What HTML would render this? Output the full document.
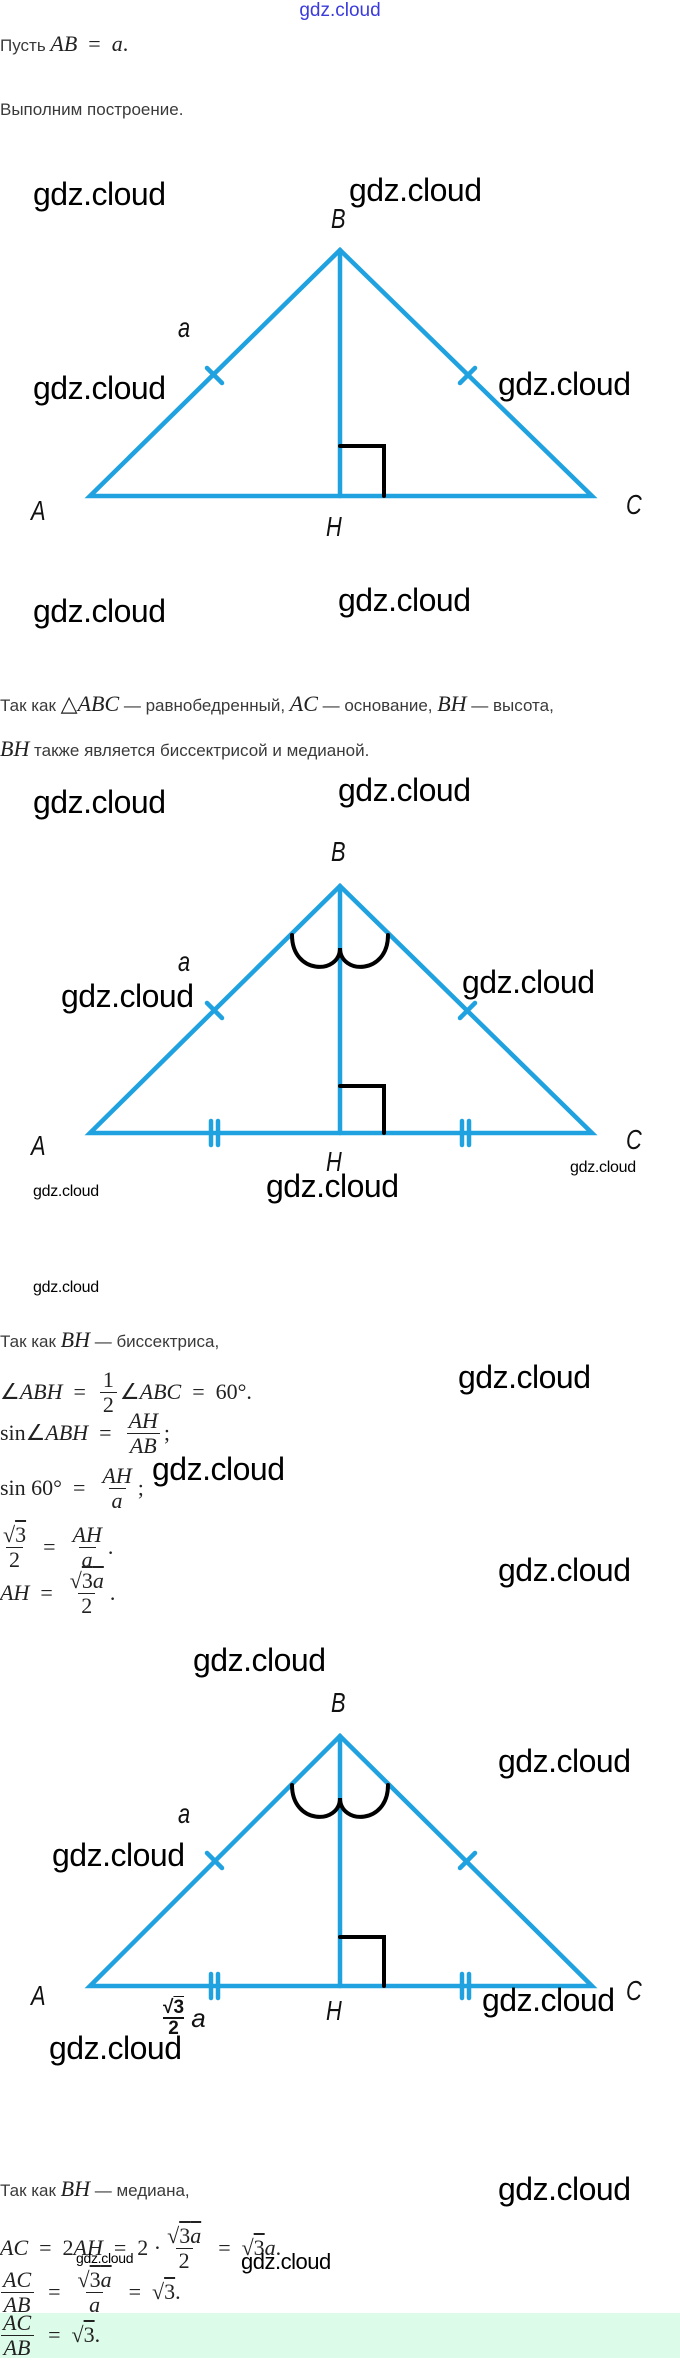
<!DOCTYPE html>
<html><head><meta charset="utf-8">
<style>
html,body{margin:0;padding:0;background:#fff;}
body{width:680px;height:2358px;position:relative;overflow:hidden;font-family:"Liberation Sans",sans-serif;color:#333;}
.a{position:absolute;line-height:1;white-space:nowrap;}
.t{font-size:17px;color:#3a3a3a;}
.wm{font-family:"Liberation Sans",sans-serif;font-size:32px;color:#000;letter-spacing:-0.5px;}
.wms{font-family:"Liberation Sans",sans-serif;font-size:16px;color:#000;letter-spacing:-0.3px;}
.lab{font-family:"Liberation Sans",sans-serif;font-style:italic;font-size:28px;color:#111;transform:scaleX(0.78);transform-origin:left center;}
.m{font-family:"Liberation Serif",serif;font-size:22px;color:#222;}
.m i{font-style:italic;}
.row{position:absolute;left:0;height:60px;display:flex;align-items:center;white-space:nowrap;}
.frac{display:inline-flex;flex-direction:column;align-items:center;vertical-align:middle;margin:0 3px;line-height:1.05;}
.frac .d{border-top:1.4px solid #222;padding:0 3px;}
.frac .n{padding:0 3px 1px;}
.sq{text-decoration:overline;}
</style></head><body>

<div class="a" style="left:0;width:680px;text-align:center;top:1px;font-size:19px;color:#3b3bdc;">gdz.cloud</div>
<div class="a t" style="left:0;top:33px;">Пусть <span class="m"><i>AB</i> &nbsp;= &nbsp;<i>a</i>.</span></div>
<div class="a t" style="left:0;top:101px;">Выполним построение.</div>

<svg class="a" style="left:0;top:0" width="680" height="2358" xmlns="http://www.w3.org/2000/svg">
<g fill="none" stroke-linecap="round">
<!-- Diagram 1 -->
<g stroke="#1fa2df" stroke-width="4.5">
<path d="M90 496 L340 250 L592 496 Z"/>
<path d="M340 250 L340 496"/>
<path d="M207 368 L222 383"/><path d="M460 383 L475 368" />
</g>
<path d="M340 446 L384 446 L384 496" stroke="#000" stroke-width="4"/>
<!-- Diagram 2 -->
<g stroke="#1fa2df" stroke-width="4.5">
<path d="M90 1133 L340 886 L592 1133 Z"/>
<path d="M340 886 L340 1133"/>
<path d="M207 1003 L222 1018"/><path d="M460 1018 L475 1003"/>
<path d="M211 1121 L211 1145 M218 1121 L218 1145"/>
<path d="M462 1121 L462 1145 M469 1121 L469 1145"/>
</g>
<path d="M340 1086 L384 1086 L384 1133" stroke="#000" stroke-width="4"/>
<path d="M292 935 C292 975, 340 975, 340 948 C340 975, 388 975, 388 935" stroke="#000" stroke-width="4"/>
<!-- Diagram 3 -->
<g stroke="#1fa2df" stroke-width="4.5">
<path d="M90 1986 L340 1736 L592 1986 Z"/>
<path d="M340 1736 L340 1986"/>
<path d="M207 1853 L222 1868"/><path d="M460 1868 L475 1853"/>
<path d="M211 1974 L211 1998 M218 1974 L218 1998"/>
<path d="M462 1974 L462 1998 M469 1974 L469 1998"/>
</g>
<path d="M340 1937 L384 1937 L384 1986" stroke="#000" stroke-width="4"/>
<path d="M292 1785 C292 1825, 340 1825, 340 1798 C340 1825, 388 1825, 388 1785" stroke="#000" stroke-width="4"/>
</g>
</svg>

<!-- Diagram 1 labels -->
<div class="a wm" style="left:33px;top:178px;">gdz.cloud</div>
<div class="a wm" style="left:349px;top:174px;">gdz.cloud</div>
<div class="a lab" style="left:331px;top:205px;">B</div>
<div class="a lab" style="left:178px;top:314px;">a</div>
<div class="a wm" style="left:33px;top:372px;">gdz.cloud</div>
<div class="a wm" style="left:498px;top:368px;">gdz.cloud</div>
<div class="a lab" style="left:31px;top:497px;">A</div>
<div class="a lab" style="left:626px;top:491px;">C</div>
<div class="a lab" style="left:326px;top:513px;">H</div>
<div class="a wm" style="left:33px;top:595px;">gdz.cloud</div>
<div class="a wm" style="left:338px;top:584px;">gdz.cloud</div>

<div class="a t" style="left:0;top:693px;">Так как <span class="m">△<i>ABC</i></span> — равнобедренный, <span class="m"><i>AC</i></span> — основание, <span class="m"><i>BH</i></span> — высота,</div>
<div class="a t" style="left:0;top:738px;"><span class="m"><i>BH</i></span> также является биссектрисой и медианой.</div>

<!-- Diagram 2 labels -->
<div class="a wm" style="left:33px;top:786px;">gdz.cloud</div>
<div class="a wm" style="left:338px;top:774px;">gdz.cloud</div>
<div class="a lab" style="left:331px;top:838px;">B</div>
<div class="a lab" style="left:178px;top:948px;">a</div>
<div class="a wm" style="left:61px;top:980px;">gdz.cloud</div>
<div class="a wm" style="left:462px;top:966px;">gdz.cloud</div>
<div class="a lab" style="left:31px;top:1132px;">A</div>
<div class="a lab" style="left:626px;top:1126px;">C</div>
<div class="a lab" style="left:326px;top:1148px;">H</div>
<div class="a wms" style="left:570px;top:1160px;">gdz.cloud</div>
<div class="a wm" style="left:266px;top:1170px;">gdz.cloud</div>
<div class="a wms" style="left:33px;top:1184px;">gdz.cloud</div>
<div class="a wms" style="left:33px;top:1280px;">gdz.cloud</div>

<div class="a t" style="left:0;top:1329px;">Так как <span class="m"><i>BH</i></span> — биссектриса,</div>

<div class="row m" style="top:1362px;">∠<i>ABH</i>&nbsp; = &nbsp;<span class="frac"><span class="n">1</span><span class="d">2</span></span>∠<i>ABC</i>&nbsp; = &nbsp;60°.</div>
<div class="a wm" style="left:458px;top:1361px;">gdz.cloud</div>
<div class="row m" style="top:1403px;">sin∠<i>ABH</i>&nbsp; = &nbsp;<span class="frac"><span class="n"><i>AH</i></span><span class="d"><i>AB</i></span></span>;</div>
<div class="row m" style="top:1458px;">sin&nbsp;60°&nbsp; = &nbsp;<span class="frac"><span class="n"><i>AH</i></span><span class="d"><i>a</i></span></span>;</div>
<div class="a wm" style="left:152px;top:1453px;">gdz.cloud</div>
<div class="row m" style="top:1517px;"><span class="frac" style="margin-left:0"><span class="n">√<span class="sq">3</span></span><span class="d">2</span></span>&nbsp; = &nbsp;<span class="frac"><span class="n"><i>AH</i></span><span class="d"><i>a</i></span></span>.</div>
<div class="row m" style="top:1563px;"><i>AH</i>&nbsp; = &nbsp;<span class="frac"><span class="n">√<span class="sq">3<i>a</i></span></span><span class="d">2</span></span>.</div>
<div class="a wm" style="left:498px;top:1554px;">gdz.cloud</div>

<!-- Diagram 3 labels -->
<div class="a wm" style="left:193px;top:1644px;">gdz.cloud</div>
<div class="a lab" style="left:331px;top:1689px;">B</div>
<div class="a wm" style="left:498px;top:1745px;">gdz.cloud</div>
<div class="a lab" style="left:178px;top:1800px;">a</div>
<div class="a wm" style="left:52px;top:1839px;">gdz.cloud</div>
<div class="a lab" style="left:31px;top:1982px;">A</div>
<div class="a lab" style="left:626px;top:1977px;">C</div>
<div class="a lab" style="left:326px;top:1997px;">H</div>
<div class="a wm" style="left:482px;top:1984px;">gdz.cloud</div>
<div class="a" style="left:163px;top:1998px;font-family:'Liberation Sans',sans-serif;font-weight:bold;font-size:19px;color:#111;line-height:1;">
  <span style="display:inline-block;text-align:center;vertical-align:middle;"><span style="display:block;">√<span class="sq">3</span></span><span style="display:block;border-top:2px solid #111;">2</span></span><i style="font-weight:normal;font-size:26px;vertical-align:middle;"> a</i></div>
<div class="a wm" style="left:49px;top:2032px;">gdz.cloud</div>

<div class="a t" style="left:0;top:2178px;">Так как <span class="m"><i>BH</i></span> — медиана,</div>
<div class="a wm" style="left:498px;top:2173px;">gdz.cloud</div>

<div style="position:absolute;left:0;top:2313px;width:680px;height:45px;background:#dcfbe9;"></div>

<div class="row m" style="top:2218px;"><i>AC</i>&nbsp; = &nbsp;2<i>AH</i>&nbsp; = &nbsp;2 · <span class="frac"><span class="n">√<span class="sq">3<i>a</i></span></span><span class="d">2</span></span>&nbsp; = &nbsp;√<span class="sq">3</span><i>a</i>.</div>
<div class="a wms" style="left:76px;top:2251px;font-size:14px;">gdz.cloud</div>
<div class="a wm" style="left:241px;top:2251px;font-size:22px;">gdz.cloud</div>
<div class="row m" style="top:2262px;"><span class="frac" style="margin-left:0"><span class="n"><i>AC</i></span><span class="d"><i>AB</i></span></span>&nbsp; = &nbsp;<span class="frac"><span class="n">√<span class="sq">3<i>a</i></span></span><span class="d"><i>a</i></span></span>&nbsp; = &nbsp;√<span class="sq">3</span>.</div>
<div class="row m" style="top:2305px;"><span class="frac" style="margin-left:0"><span class="n"><i>AC</i></span><span class="d"><i>AB</i></span></span>&nbsp; = &nbsp;√<span class="sq">3</span>.</div>

</body></html>
